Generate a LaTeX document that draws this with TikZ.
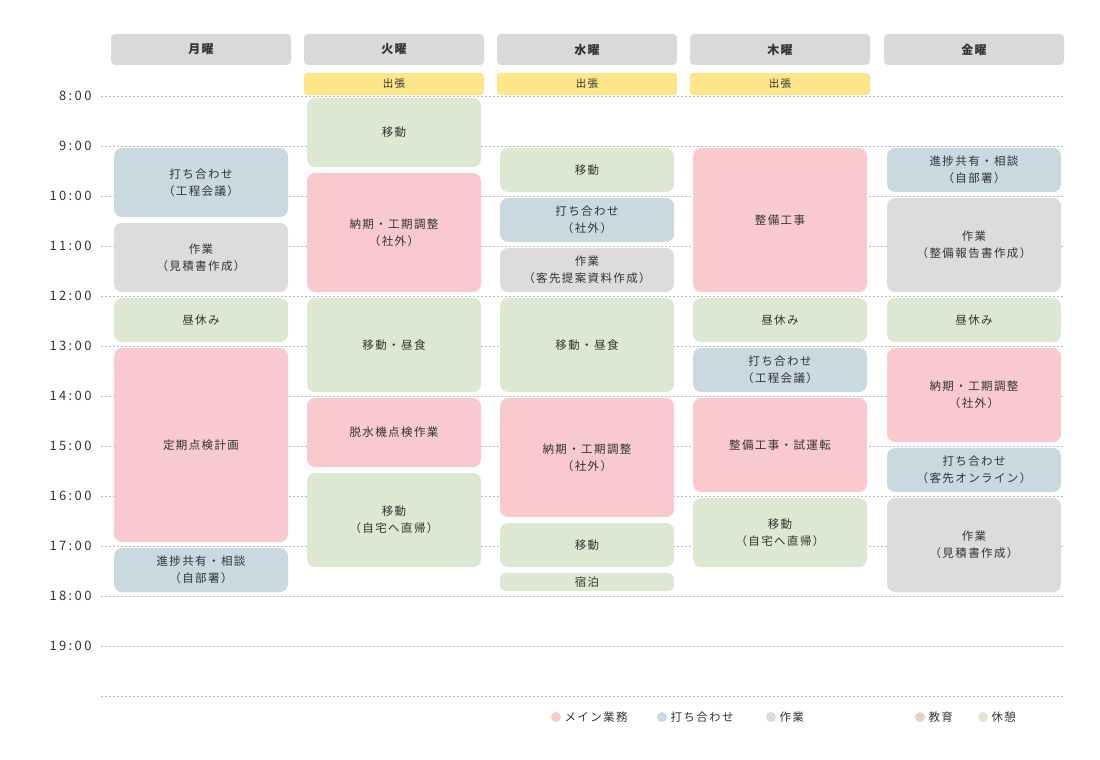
\documentclass[tikz,border=0pt]{standalone}
\usepackage{fontspec}
\setmainfont{Noto Sans CJK JP}[LetterSpace=12]
\newfontfamily\timefont{Noto Sans CJK JP}[LetterSpace=18]
\definecolor{cpink}{HTML}{F8CACE}
\definecolor{cblue}{HTML}{CAD8E0}
\definecolor{cgray}{HTML}{DCDCDC}
\definecolor{cgreen}{HTML}{DCE8D2}
\definecolor{cyellow}{HTML}{FDE58A}
\definecolor{chead}{HTML}{D9D9D9}
\definecolor{cbeige}{HTML}{E2D6C6}
\definecolor{ctext}{HTML}{333333}
\definecolor{cline}{HTML}{BBBBBB}
\newcommand\ev[6]{%
  \pgfmathsetmacro\evy{96+(#3-8)*50+2}%
  \pgfmathsetmacro\evh{(#4-#3)*50-6}%
  \node[evbox,fill=#5,minimum height=\evh pt] (#1) at (#2+90,\evy+\evh/2) {#6};}
\begin{document}
\begin{tikzpicture}[x=1pt,y=-1pt,
  evbox/.style={rounded corners=8pt,minimum width=174pt,inner sep=1pt,align=center,text=ctext,font=\fontsize{11.5}{17}\selectfont},
  headbox/.style={fill=chead,minimum width=180pt,minimum height=31pt,inner sep=0pt,text=ctext,font=\fontsize{12}{14}\selectfont\bfseries},
  timelab/.style={anchor=east,text=ctext,font=\fontsize{13}{15}\selectfont\timefont},
  gridline/.style={draw=cline,dashed,line width=0.6pt,dash pattern=on 2pt off 2pt},
  legdot/.style={circle,inner sep=0pt,minimum size=10pt},
  legtext/.style={anchor=west,text=ctext,font=\fontsize{11.5}{14}\selectfont}]
\useasboundingbox (0,0) rectangle (1100,760);
% headers
\foreach \n/\x/\t in {mon/111/月曜,tue/304/火曜,wed/497/水曜,thu/690/木曜,fri/884/金曜}{
  \path[fill=chead,rounded corners=4pt] (\x,65) -- (\x,34) -- (\x+180,34) -- (\x+180,65) -- cycle;
  \node[text=ctext,font=\fontsize{12}{14}\selectfont\bfseries] (h\n) at (\x+90,49.5) {\t};
}
% grid
\foreach \h in {8,...,19}{
  \pgfmathsetmacro\yy{96+(\h-8)*50}
  \draw[gridline] (101,\yy) -- (1065,\yy);
  \node[timelab] (t\h) at (95,\yy) {\h:00};
}
\coordinate (gl) at (101,696); \coordinate (gr) at (1065,696);
\draw[gridline] (gl) -- (gr);
% trips
\foreach \n/\x in {tue/304,wed/497,thu/690}{
  \node[fill=cyellow,rounded corners=3pt,minimum width=180pt,minimum height=22pt,inner sep=0pt,text=ctext,font=\fontsize{10.5}{12}\selectfont] (trip\n) at (\x+90,84) {出張};
}
% Monday
\ev{m1}{111}{9}{10.5}{cblue}{打ち合わせ\\（工程会議）}
\ev{m2}{111}{10.5}{12}{cgray}{作業\\（見積書作成）}
\ev{m3}{111}{12}{13}{cgreen}{昼休み}
\ev{m4}{111}{13}{17}{cpink}{定期点検計画}
\ev{m5}{111}{17}{18}{cblue}{進捗共有・相談\\（自部署）}
% Tuesday
\ev{u1}{304}{8}{9.5}{cgreen}{移動}
\ev{u2}{304}{9.5}{12}{cpink}{納期・工期調整\\（社外）}
\ev{u3}{304}{12}{14}{cgreen}{移動・昼食}
\ev{u4}{304}{14}{15.5}{cpink}{脱水機点検作業}
\ev{u5}{304}{15.5}{17.5}{cgreen}{移動\\（自宅へ直帰）}
% Wednesday
\ev{w1}{497}{9}{10}{cgreen}{移動}
\ev{w2}{497}{10}{11}{cblue}{打ち合わせ\\（社外）}
\ev{w3}{497}{11}{12}{cgray}{作業\\（客先提案資料作成）}
\ev{w4}{497}{12}{14}{cgreen}{移動・昼食}
\ev{w5}{497}{14}{16.5}{cpink}{納期・工期調整\\（社外）}
\ev{w6}{497}{16.5}{17.5}{cgreen}{移動}
\node[evbox,fill=cgreen,rounded corners=6pt,minimum height=18pt] (w7) at (587,582) {宿泊};
% Thursday
\ev{r1}{690}{9}{12}{cpink}{整備工事}
\ev{r2}{690}{12}{13}{cgreen}{昼休み}
\ev{r3}{690}{13}{14}{cblue}{打ち合わせ\\（工程会議）}
\ev{r4}{690}{14}{16}{cpink}{整備工事・試運転}
\ev{r5}{690}{16}{17.5}{cgreen}{移動\\（自宅へ直帰）}
% Friday
\ev{f1}{884}{9}{10}{cblue}{進捗共有・相談\\（自部署）}
\ev{f2}{884}{10}{12}{cgray}{作業\\（整備報告書作成）}
\ev{f3}{884}{12}{13}{cgreen}{昼休み}
\ev{f4}{884}{13}{15}{cpink}{納期・工期調整\\（社外）}
\ev{f5}{884}{15}{16}{cblue}{打ち合わせ\\（客先オンライン）}
\ev{f6}{884}{16}{18}{cgray}{作業\\（見積書作成）}
% legend
\foreach \n/\x/\c/\t in {a/556/cpink/メイン業務,b/662/cblue/打ち合わせ,c/771/cgray/作業/その他業務,d/920/cbeige/教育,e/983/cgreen/休憩/移動}{
  \node[legdot,fill=\c] (ld\n) at (\x,717) {};
  \node[legtext] (lt\n) at (\x+5,717) {\t};
}
\end{tikzpicture}
\end{document}
